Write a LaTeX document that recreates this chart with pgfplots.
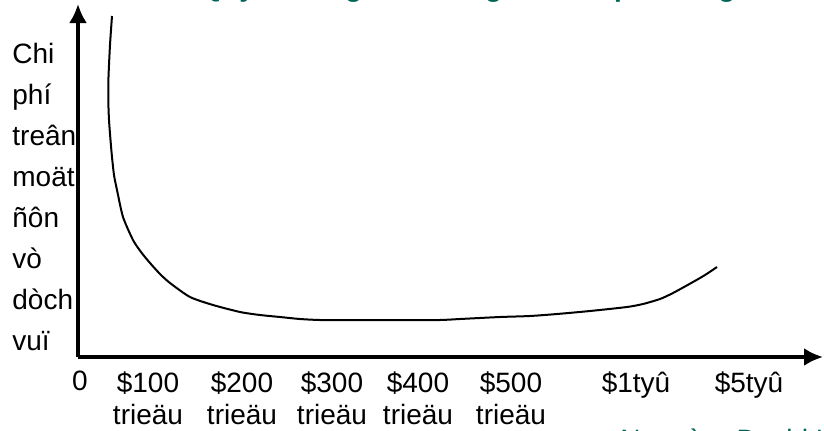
\documentclass[border=0pt]{standalone}
\usepackage{fontspec}
\setmainfont{Liberation Sans}
\usepackage{pgfplots}
\pgfplotsset{compat=1.18}
\usetikzlibrary{arrows.meta}
\definecolor{titlegreen}{RGB}{0,100,85}

\begin{document}
\begin{tikzpicture}
\begin{axis}[
    scale only axis,
    width=372.5pt, height=176.5pt,
    xmin=0, xmax=745, ymin=0, ymax=353,
    axis lines=left,
    axis line style={line width=1.7pt, -{Latex[length=9.5pt,width=9pt]}},
    ytick=\empty,
    xtick={2,70,164,254,340,433,558,671},
    xticklabels={0,{\$100\\trieäu},{\$200\\trieäu},{\$300\\trieäu},
      {\$400\\trieäu},{\$500\\trieäu},\$1tyû,\$5tyû},
    major tick length=0pt,
    xticklabel style={font=\fontsize{14}{16}\selectfont, align=center, inner sep=0pt, yshift=-7pt},
    clip=false,
  ]
  \coordinate (O) at (axis cs:0,0);
  \addplot[line width=1pt, smooth, tension=0.4] coordinates {
    (34,341) (32,312) (30.5,280) (30.3,257) (31,237) (32.5,217) (34,200)
    (36,182) (39,167) (45,140) (55,117) (63,105) (72,94) (82,83) (92,74)
    (112,60) (135,52) (162,45) (182,42) (202,40) (222,38) (242,37) (272,37)
    (322,37) (362,37) (382,38) (422,40) (452,41) (479,43) (512,46) (549,50)
    (565,53) (582,58) (595,64) (615,75) (627,82) (639,90)
  };
  \node[anchor=north west, inner sep=0pt, align=left,
        font=\fontsize{14}{20.5}\selectfont] at (axis cs:-66,314)
        {Chi\\phí\\treân\\moät\\ñôn\\vò\\dòch\\vuï};
  \node[anchor=base west, inner sep=0pt, text=titlegreen,
        font=\bfseries\fontsize{14}{16}\selectfont] at (axis cs:122,361)
        {Quy moâ ngaân haøng vaø chi phí trung bình};
  \node[anchor=base west, inner sep=0pt, text=titlegreen,
        font=\fontsize{14}{16}\selectfont] at (axis cs:542,-92)
        {Nguoàn: David Kidwell};
\end{axis}
\pgfresetboundingbox
\path[use as bounding box, shift={(O)}] (-39pt,-36.5pt) rectangle (373pt,178.5pt);
\end{tikzpicture}
\end{document}
